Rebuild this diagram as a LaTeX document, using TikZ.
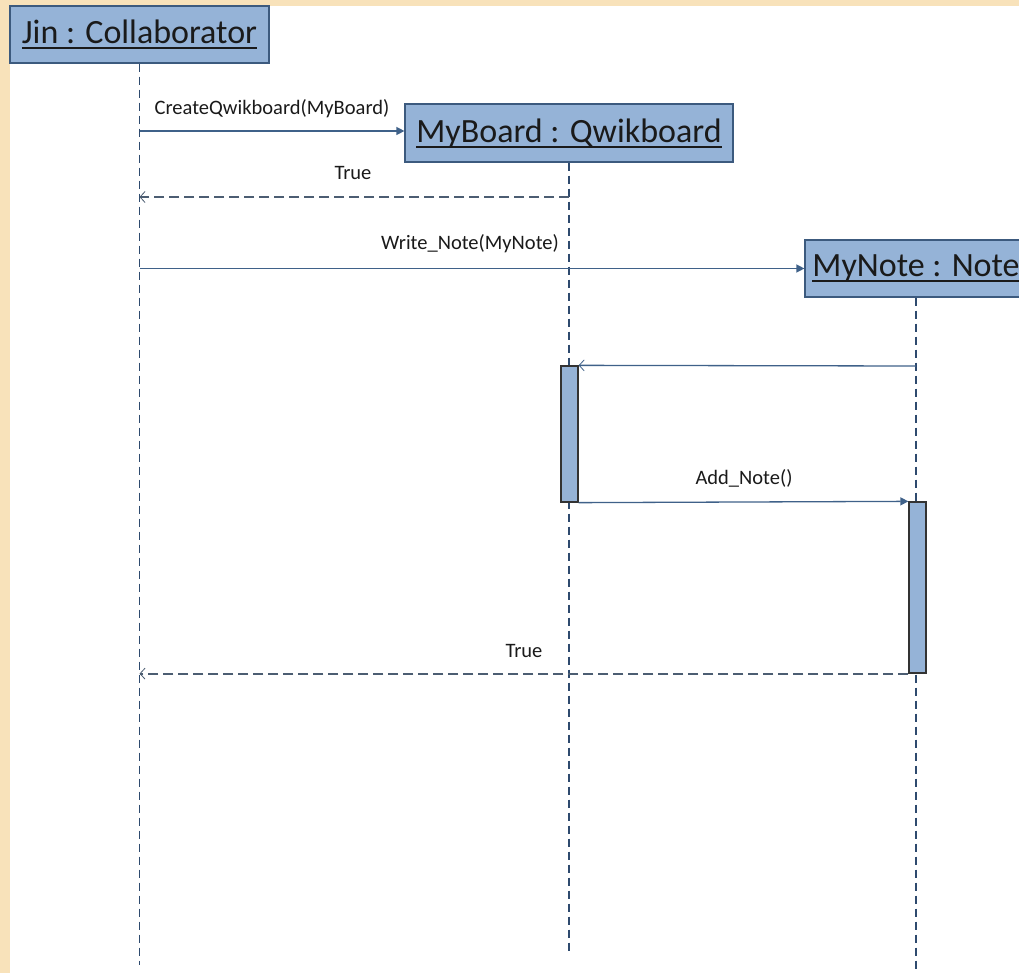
\documentclass[tikz,border=0pt]{standalone}
\usepackage{fontspec}
\setmainfont{Carlito}
\newcommand{\ulobj}[1]{\setbox0\hbox{#1}\rlap{\rule[-5.5pt]{\wd0}{1.8pt}}\box0}
\usetikzlibrary{arrows.meta}
\definecolor{parch}{HTML}{F8E2BA}
\definecolor{boxfill}{HTML}{95B3D7}
\definecolor{boxline}{HTML}{3C5A7E}
\definecolor{lifecol}{HTML}{2E4A6E}
\definecolor{msgcol}{HTML}{3F6189}
\definecolor{retcol}{HTML}{4C5D72}
\definecolor{txtcol}{HTML}{1A1A1A}
\begin{document}
\begin{tikzpicture}[x=1pt,y=-1pt,
  obj/.style={draw=boxline, fill=boxfill, line width=1.2pt, rectangle, inner sep=0pt,
    font=\fontsize{34}{40}\selectfont, text=txtcol},
  actbar/.style={draw=black!80, fill=boxfill, line width=1.3pt, rectangle, inner sep=0pt,
    minimum width=17pt},
  lifeline/.style={draw=lifecol, line width=1.1pt, dash pattern=on 8pt off 5pt},
  call/.style={draw=msgcol, line width=1.3pt, -{Triangle[length=8pt,width=8pt]}},
  reply/.style={draw=msgcol, line width=1.3pt, -{Straight Barb[length=5pt,width=11pt,line width=0.8pt]}},
  retmsg/.style={reply, draw=retcol, line width=1.8pt, dash pattern=on 10pt off 5pt},
  lbl/.style={font=\fontsize{20.5}{24}\selectfont, text=txtcol, inner sep=0pt}]
\useasboundingbox (0,0) rectangle (1019,973);
\clip (0,0) rectangle (1019,973);
% background
\fill[parch] (0,0) rectangle (1019,973);
\fill[white] (10,6) rectangle (1019,973);
% objects
\node[obj, minimum width=259pt, minimum height=57pt] (jin) at (139.5,34.5) {\ulobj{Jin : Collaborator}};
\node[obj, minimum width=328pt, minimum height=58pt] (board) at (569,133) {\ulobj{MyBoard : Qwikboard}};
\node[obj, minimum width=222pt, minimum height=57pt] (note) at (916,268.5) {\ulobj{MyNote : Note}};
% lifelines
\coordinate (jinEnd) at (139.5,965);
\coordinate (boardEnd) at (569,955);
\coordinate (noteEnd) at (916,975);
\draw[lifeline] (jin.south) -- (jinEnd);
\draw[lifeline] (board.south) -- (boardEnd);
\draw[lifeline] (note.south) -- (noteEnd);
% activation bars
\node[actbar, minimum height=136pt] (actB) at (569.5,434) {};
\node[actbar, minimum height=171pt] (actN) at (917.5,587.5) {};
% messages
\coordinate (m1s) at (139.5,131);
\draw[call] (m1s) -- (m1s -| board.west);
\node[lbl] (l1) at (272,109) {CreateQwikboard(MyBoard)};
\coordinate (r1s) at (569,197);
\draw[retmsg] (r1s) -- (r1s -| jin.south);
\node[lbl] (l2) at (353,173) {True};
\coordinate (m2s) at (139.5,268.5);
\draw[call] (m2s) -- (note.west);
\node[lbl] (l3) at (470,244) {Write\_Note(MyNote)};
\coordinate (m3s) at (916,366);
\draw[reply] (m3s) -- (actB.north east);
\draw[call] (actB.south east) -- (actN.north west);
\node[lbl] (l4) at (744,478) {Add\_Note()};
\draw[retmsg] (actN.south west) -- (actN.south west -| jin.south);
\node[lbl] (l5) at (524,651) {True};
\end{tikzpicture}
\end{document}
